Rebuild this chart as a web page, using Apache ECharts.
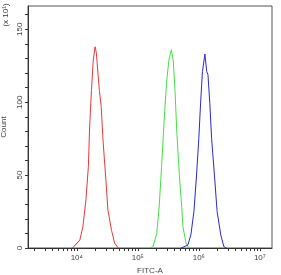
<!DOCTYPE html>
<html>
<head>
<meta charset="utf-8">
<script src="https://cdn.jsdelivr.net/npm/echarts@6/dist/echarts.min.js"></script>
<style>
  html, body { margin: 0; padding: 0; background: #fff; }
  #chart { width: 281px; height: 275px; }
</style>
</head>
<body>
<div id="chart"></div>
<script>
// x values are log10(FITC-A), y values are counts (x 10^1)
const redLog   = [3.93, 4.05, 4.10, 4.15, 4.19, 4.21, 4.24, 4.27, 4.30, 4.32, 4.37, 4.40, 4.43, 4.48, 4.51, 4.57, 4.62, 4.68];
const redCount = [0, 5.5, 14.6, 33, 56, 83, 108, 129, 138, 134, 108, 97, 74, 44.6, 26, 12, 3.4, 0];

const greenLog   = [5.20, 5.25, 5.31, 5.35, 5.39, 5.43, 5.47, 5.51, 5.55, 5.58, 5.61, 5.64, 5.68, 5.72, 5.74, 5.79, 5.84];
const greenCount = [0, 1, 10, 28, 56, 86, 113, 129, 136, 129, 108, 79, 51, 28, 14.6, 3.4, 0];

const blueLog   = [5.71, 5.82, 5.87, 5.92, 5.96, 6.00, 6.03, 6.06, 6.10, 6.13, 6.15, 6.18, 6.21, 6.26, 6.30, 6.36, 6.41, 6.45];
const blueCount = [0, 2, 9, 25, 48, 75, 100, 121, 133, 121, 119, 100, 75, 48, 25, 9, 1, 0];

const xMajor = [4, 5, 6, 7];
const yMajor = [0, 50, 100, 150];
const sup = { 4: '⁴', 5: '⁵', 6: '⁶', 7: '⁷' };

// minor ticks at 2..9 x 10^n, on the log scale
const xMinor = [];
for (let n = 3; n <= 7; n++) {
  for (let k = 1; k <= 9; k++) {
    const v = Math.log10(k * Math.pow(10, n));
    if (v >= 3.2 && v <= 7.2) xMinor.push(v);
  }
}
const yMinor = [];
for (let v = 0; v <= 160; v += 10) yMinor.push(v);

const pairs = (xs, ys) => xs.map((x, i) => [x, ys[i]]);
const font = 'Liberation Sans';
const txt = '#444';

const myChart = echarts.init(document.getElementById('chart'));
myChart.setOption({
  animation: false,
  textStyle: { fontFamily: font },
  grid: {
    left: 28, top: 6, right: 9, bottom: 27,
    containLabel: false, outerBoundsMode: 'none',
    show: true, borderColor: '#555', borderWidth: 1
  },
  xAxis: {
    type: 'value', min: 3.2, max: 7.2,
    name: 'FITC-A', nameLocation: 'middle', nameGap: 18,
    nameTextStyle: { fontSize: 8, color: txt, fontFamily: font },
    axisLine: { lineStyle: { color: '#333', width: 1 } },
    axisTick: { customValues: xMinor, length: 3, lineStyle: { color: '#333' } },
    axisLabel: {
      customValues: xMajor, fontSize: 8, color: txt, margin: 6,
      formatter: v => '10' + sup[Math.round(v)]
    },
    splitLine: { show: false }
  },
  yAxis: {
    type: 'value', min: 0, max: 166,
    name: 'Count', nameLocation: 'middle', nameGap: 15, nameRotate: 90,
    nameTextStyle: { fontSize: 8, color: txt, fontFamily: font },
    axisLine: { show: true, lineStyle: { color: '#333', width: 1 } },
    axisTick: { customValues: yMinor, length: 3, lineStyle: { color: '#333' } },
    axisLabel: { customValues: yMajor, rotate: 90, fontSize: 8, color: txt, margin: 4 },
    splitLine: { show: false }
  },
  graphic: [{
    type: 'text', x: 2, y: 15, rotation: Math.PI / 2,
    style: { text: '(x 10¹)', fontSize: 8, fill: txt, font: '8px ' + font, align: 'center', verticalAlign: 'top' }
  }],
  series: [
    { type: 'line', data: pairs(redLog, redCount), showSymbol: false, lineStyle: { color: '#e8393a', width: 1 } },
    { type: 'line', data: pairs(greenLog, greenCount), showSymbol: false, lineStyle: { color: '#44e044', width: 1 } },
    { type: 'line', data: pairs(blueLog, blueCount), showSymbol: false, lineStyle: { color: '#2a2ad0', width: 1 } }
  ]
});
</script>
</body>
</html>
